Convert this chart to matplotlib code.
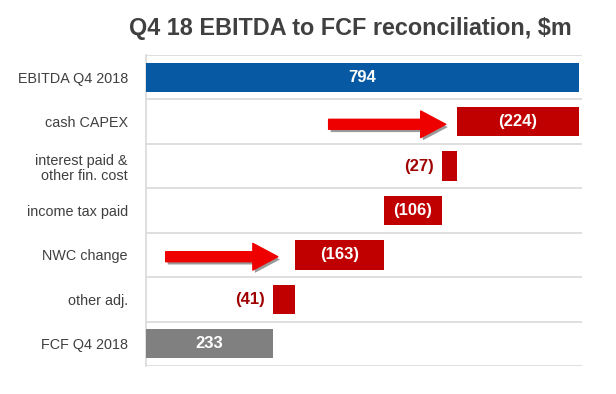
import matplotlib
matplotlib.use("Agg")
import matplotlib.pyplot as plt
from matplotlib.patches import FancyArrowPatch
import matplotlib.patheffects as pe

plt.rcParams['font.family'] = ['Liberation Sans', 'DejaVu Sans']

categories = ["EBITDA Q4 2018", "cash CAPEX", "interest paid &\nother fin. cost",
              "income tax paid", "NWC change", "other adj.", "FCF Q4 2018"]
values = [794, -224, -27, -106, -163, -41, 233]
labels = ["794", "(224)", "(27)", "(106)", "(163)", "(41)", "233"]
kinds = ["total", "delta", "delta", "delta", "delta", "delta", "total"]

colors = {"total_first": "#0759A3", "delta": "#C00000", "total_last": "#808080"}

fig = plt.figure(figsize=(6.16, 3.94), dpi=100)
ax = fig.add_axes([146/616, 1 - 366/394, 436/616, 311/394])

n = len(categories)
ypos = list(range(n))
running = 0
for i, (v, k, lab) in enumerate(zip(values, kinds, labels)):
    if k == "total":
        left, width = 0, v
        running = v
        col = colors["total_first"] if i == 0 else colors["total_last"]
    else:
        left, width = running + v, -v
        running = running + v
        col = colors["delta"]
    ax.barh(i, width, left=left, height=0.66, color=col, zorder=3)
    if width >= 60:
        ax.text(left + width / 2, i, lab, ha="center", va="center", color="white",
                fontsize=12, fontweight="bold", zorder=4)
    else:
        ax.text(left - 14, i, lab, ha="right", va="center", color="#A00000",
                fontsize=12, fontweight="bold", zorder=4)

ax.set_xlim(0, 800)
ax.set_ylim(n - 0.5, -0.5)
ax.set_yticks(ypos)
ax.set_yticklabels(categories, fontsize=10.4, color="#404040", linespacing=1.1)
ax.tick_params(axis="y", length=0, pad=13)
ax.set_xticks([])
for b in [i - 0.5 for i in range(n + 1)]:
    ax.axhline(b, color="#D9D9D9", lw=1.2, zorder=1)
for s in ["top", "right", "bottom"]:
    ax.spines[s].set_visible(False)
ax.spines["left"].set_color("#D9D9D9")
ax.spines["left"].set_linewidth(1.2)

def arrow(x0, x1, y):
    a = FancyArrowPatch((x0, y), (x1, y),
                        arrowstyle="simple,head_width=1.6,head_length=1.5,tail_width=0.6",
                        mutation_scale=12, color="#EE0000", capstyle="round",
                        joinstyle="round", zorder=5,
                        path_effects=[pe.SimplePatchShadow(offset=(1.5, -2), shadow_rgbFace="#555555", alpha=0.6),
                                      pe.Normal()])
    ax.add_patch(a)

arrow(330, 555, 1.06)
arrow(31, 247, 4.04)

fig.text(350/616, 1 - 28/394, "Q4 18 EBITDA to FCF reconciliation, $m", ha="center", va="center",
         fontsize=16.8, fontweight="bold", color="#404040")

fig.savefig("out.png", dpi=100)
